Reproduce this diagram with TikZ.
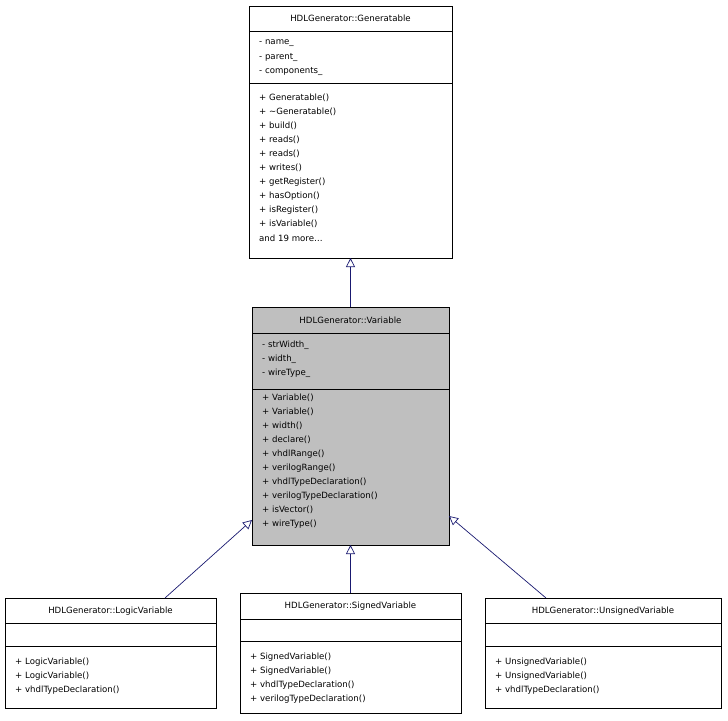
\documentclass[tikz,border=0pt]{standalone}
\usepackage{fontspec}
\setmainfont{DejaVu Sans}
\usetikzlibrary{arrows.meta}
\definecolor{edge}{HTML}{191970}
\definecolor{hl}{HTML}{BFBFBF}
\tikzset{
  txt/.style={anchor=west,inner sep=0pt,font=\fontsize{8.6}{10}\selectfont},
  ttl/.style={anchor=center,inner sep=0pt,font=\fontsize{8.6}{10}\selectfont},
  box/.style={draw=black,line width=0.7pt},
  inh/.style={draw=edge,line width=0.7pt,-{Triangle[open,length=9pt,width=9pt]}}
}
\begin{document}
\begin{tikzpicture}[x=1pt,y=-1pt]
\useasboundingbox (0,0) rectangle (728,720);
% top box
\draw[box,fill=white] (249,6) rectangle (452,258);
\draw[box] (249,31) -- (452,31) (249,83) -- (452,83);
\node[ttl] (gen) at (350.5,18.5) {HDLGenerator::Generatable};
\coordinate (genb) at (350.5,258);
\foreach \t [count=\i from 0] in {{- name\_},{- parent\_},{- components\_}}
  \node[txt] (ga\i) at (259,43+14*\i) {\t};
\foreach \t [count=\i from 0] in {{+ Generatable()},{+ \textasciitilde Generatable()},{+ build()},{+ reads()},{+ reads()},{+ writes()},{+ getRegister()},{+ hasOption()},{+ isRegister()},{+ isVariable()},{and 19 more\ldots}}
  \node[txt] (gm\i) at (259,98+14*\i) {\t};
% middle box
\draw[box,fill=hl] (252,307) rectangle (449,545);
\draw[box] (252,333) -- (449,333) (252,389) -- (449,389);
\node[ttl] (var) at (350.5,320) {HDLGenerator::Variable};
\coordinate (vart) at (350.5,307);
\coordinate (varb) at (350.5,545);
\coordinate (varl) at (252,520);
\coordinate (varr) at (449,516);
\foreach \t [count=\i from 0] in {{- strWidth\_},{- width\_},{- wireType\_}}
  \node[txt] (va\i) at (262,345+14*\i) {\t};
\foreach \t [count=\i from 0] in {{+ Variable()},{+ Variable()},{+ width()},{+ declare()},{+ vhdlRange()},{+ verilogRange()},{+ vhdlTypeDeclaration()},{+ verilogTypeDeclaration()},{+ isVector()},{+ wireType()}}
  \node[txt] (vm\i) at (262,398+14*\i) {\t};
% left
\draw[box,fill=white] (5,598) rectangle (216,708);
\draw[box] (5,623) -- (216,623) (5,646) -- (216,646);
\node[ttl] (lv) at (110.5,611) {HDLGenerator::LogicVariable};
\coordinate (lvt) at (165,598);
\foreach \t [count=\i from 0] in {{+ LogicVariable()},{+ LogicVariable()},{+ vhdlTypeDeclaration()}}
  \node[txt] (lm\i) at (15,662+14*\i) {\t};
% middle bottom
\draw[box,fill=white] (240,593) rectangle (461,713);
\draw[box] (240,619) -- (461,619) (240,641) -- (461,641);
\node[ttl] (sv) at (350.5,606) {HDLGenerator::SignedVariable};
\coordinate (svt) at (350.5,593);
\foreach \t [count=\i from 0] in {{+ SignedVariable()},{+ SignedVariable()},{+ vhdlTypeDeclaration()},{+ verilogTypeDeclaration()}}
  \node[txt] (sm\i) at (250,657+14*\i) {\t};
% right
\draw[box,fill=white] (485,598) rectangle (721,708);
\draw[box] (485,623) -- (721,623) (485,646) -- (721,646);
\node[ttl] (uv) at (603,611) {HDLGenerator::UnsignedVariable};
\coordinate (uvt) at (546,598);
\foreach \t [count=\i from 0] in {{+ UnsignedVariable()},{+ UnsignedVariable()},{+ vhdlTypeDeclaration()}}
  \node[txt] (um\i) at (495,662+14*\i) {\t};
% edges
\draw[inh] (vart) -- (genb);
\draw[inh] (lvt) -- (varl);
\draw[inh] (svt) -- (varb);
\draw[inh] (uvt) -- (varr);
\end{tikzpicture}
\end{document}
